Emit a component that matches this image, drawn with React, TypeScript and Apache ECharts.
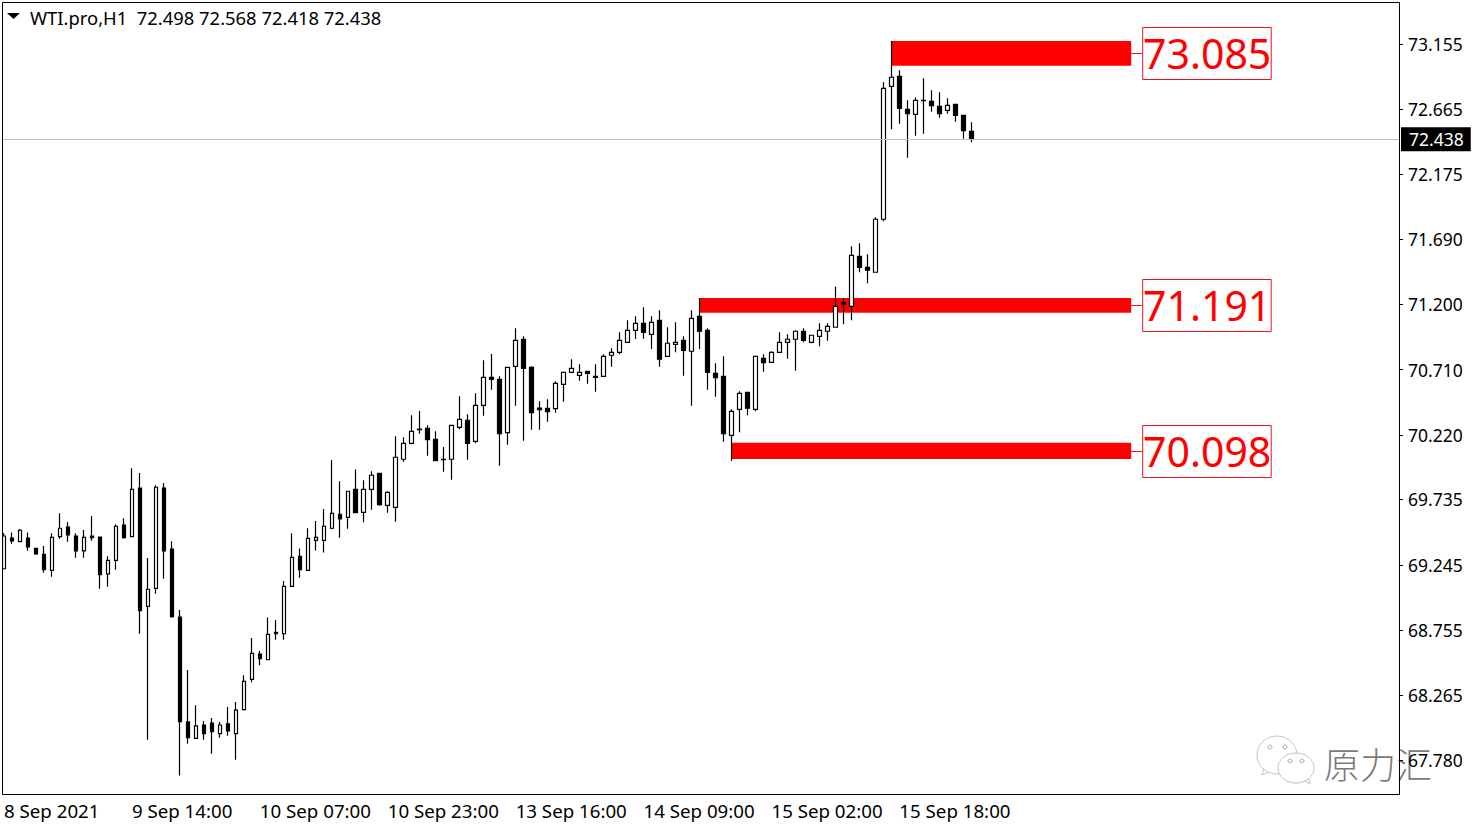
import React, { useEffect, useRef } from 'react';
import * as echarts from 'echarts';

const FONT = '"Noto Sans", Tahoma, sans-serif';

const opens = [
  69.215, 69.446, 69.418, 69.446, 69.368, 69.323, 69.203, 69.456, 69.528, 69.461,
  69.35, 69.461, 69.453, 69.177, 69.278, 69.543, 69.456, 69.821, 68.933, 69.068,
  69.821, 69.363, 68.852, 68.065, 67.942, 68.042, 68.057, 67.977, 68.05, 67.977,
  68.157, 68.385, 68.575, 68.532, 68.737, 68.727, 69.083, 69.308, 69.203, 69.428,
  69.428, 69.519, 69.624, 69.601, 69.811, 69.639, 69.811, 69.932, 69.691, 69.676,
  70.037, 70.157, 70.264, 70.27, 70.187, 70.034, 70.037, 70.277, 70.33, 70.172,
  70.442, 70.652, 70.637, 70.237, 70.735, 70.938, 70.727, 70.422, 70.42, 70.417,
  70.6, 70.69, 70.667, 70.697, 70.66, 70.66, 70.818, 70.84, 70.915, 71.005,
  71.058, 70.975, 71.08, 70.81, 70.9, 70.93, 70.848, 71.11, 71.005, 70.682,
  70.66, 70.217, 70.412, 70.54, 70.412, 70.795, 70.765, 70.84, 70.915, 70.938,
  70.998, 70.915, 70.96, 70.998, 71.028, 71.213, 71.185, 71.561, 71.478, 71.441,
  71.839, 72.837, 72.912, 72.664, 72.627, 72.729, 72.724, 72.687, 72.657, 72.702,
  72.619, 72.498,
];

const closes = [
  69.461, 69.425, 69.504, 69.38, 69.326, 69.208, 69.451, 69.519, 69.47, 69.35,
  69.451, 69.448, 69.17, 69.278, 69.534, 69.448, 69.811, 68.9, 69.061, 69.827,
  69.35, 68.855, 68.067, 67.947, 68.035, 67.977, 67.992, 68.042, 67.997, 68.153,
  68.37, 68.58, 68.54, 68.722, 68.727, 69.083, 69.301, 69.208, 69.443, 69.451,
  69.534, 69.631, 69.59, 69.797, 69.636, 69.811, 69.917, 69.696, 69.789, 70.052,
  70.157, 70.247, 70.259, 70.184, 70.026, 70.037, 70.292, 70.337, 70.157, 70.442,
  70.652, 70.637, 70.229, 70.727, 70.93, 70.72, 70.387, 70.409, 70.394, 70.607,
  70.69, 70.72, 70.69, 70.682, 70.652, 70.81, 70.84, 70.93, 71.005, 71.058,
  70.99, 71.065, 70.788, 70.908, 70.915, 70.855, 71.095, 70.998, 70.69, 70.649,
  70.229, 70.397, 70.532, 70.42, 70.81, 70.762, 70.84, 70.915, 70.938, 70.998,
  70.93, 70.968, 71.005, 71.035, 71.185, 71.201, 71.568, 71.478, 71.456, 71.839,
  72.822, 72.905, 72.672, 72.631, 72.732, 72.732, 72.691, 72.631, 72.694, 72.619,
  72.504, 72.438,
];

const lows = [
  69.213, 69.401, 69.418, 69.35, 69.32, 69.185, 69.155, 69.441, 69.418, 69.298,
  69.298, 69.425, 69.065, 69.08, 69.208, 69.441, 69.451, 68.727, 67.932, 69.028,
  69.14, 68.847, 67.662, 67.902, 67.942, 67.932, 67.827, 67.947, 67.962, 67.782,
  68.15, 68.363, 68.49, 68.532, 68.682, 68.682, 69.083, 69.148, 69.203, 69.353,
  69.338, 69.511, 69.448, 69.516, 69.636, 69.564, 69.658, 69.688, 69.636, 69.568,
  70.019, 70.149, 70.229, 70.064, 70.026, 69.944, 69.884, 70.262, 70.034, 70.157,
  70.364, 70.559, 69.989, 70.146, 70.439, 70.176, 70.259, 70.259, 70.319, 70.387,
  70.469, 70.682, 70.627, 70.604, 70.544, 70.66, 70.732, 70.825, 70.915, 70.94,
  70.942, 70.865, 70.732, 70.81, 70.84, 70.664, 70.439, 70.865, 70.559, 70.507,
  70.169, 70.026, 70.239, 70.367, 70.397, 70.695, 70.765, 70.84, 70.792, 70.702,
  70.915, 70.908, 70.885, 70.927, 71.028, 71.05, 71.08, 71.441, 71.358, 71.441,
  71.824, 72.514, 72.556, 72.301, 72.466, 72.481, 72.646, 72.601, 72.631, 72.571,
  72.444, 72.418,
];

const highs = [
  69.483, 69.488, 69.513, 69.488, 69.368, 69.386, 69.481, 69.631, 69.566, 69.481,
  69.506, 69.611, 69.453, 69.308, 69.549, 69.594, 69.969, 69.934, 69.296, 69.842,
  69.859, 69.421, 68.905, 68.455, 68.19, 68.072, 68.095, 68.065, 68.177, 68.215,
  68.415, 68.695, 68.597, 68.85, 68.83, 69.123, 69.481, 69.368, 69.519, 69.573,
  69.663, 70.032, 69.872, 69.797, 69.961, 69.879, 69.947, 69.932, 69.797, 70.209,
  70.203, 70.367, 70.399, 70.292, 70.247, 70.129, 70.292, 70.51, 70.375, 70.532,
  70.78, 70.827, 70.66, 70.727, 71.02, 70.96, 70.735, 70.472, 70.487, 70.622,
  70.69, 70.787, 70.75, 70.697, 70.75, 70.825, 70.87, 70.99, 71.08, 71.11,
  71.178, 71.11, 71.155, 71.028, 71.065, 70.96, 71.155, 71.248, 71.02, 70.757,
  70.81, 70.412, 70.547, 70.54, 70.81, 70.825, 70.848, 70.99, 70.975, 71.005,
  71.02, 70.968, 71.058, 71.058, 71.335, 71.246, 71.636, 71.658, 71.576, 71.854,
  72.867, 73.177, 72.957, 72.732, 72.755, 72.897, 72.807, 72.792, 72.747, 72.702,
  72.619, 72.568,
];

const priceTicks = [73.155, 72.665, 72.175, 71.69, 71.2, 70.71, 70.22, 69.735, 69.245, 68.755, 68.265, 67.78];
const timeLabels = [
  '8 Sep 2021',
  '9 Sep 14:00',
  '10 Sep 07:00',
  '10 Sep 23:00',
  '13 Sep 16:00',
  '14 Sep 09:00',
  '15 Sep 02:00',
  '15 Sep 18:00',
];

// red levels, from the candle they start on to the label box
const zoneStarts = [111, 87, 91];
const zoneEnd = 141;
const zoneTops = [73.177, 71.248, 70.161];
const zoneBottoms = [72.992, 71.137, 70.039];
const zoneLabels = ['73.085', '71.191', '70.098'];

const lastPrice = 72.438;
const titleText = 'WTI.pro,H1  72.498 72.568 72.418 72.438';

const LABEL_STEP = 16;
const SLOTS = 175; // chart has empty room to the right of the last candle

const categories = Array.from({ length: SLOTS }, (_, i) =>
  i % LABEL_STEP === 0 ? timeLabels[i / LABEL_STEP] ?? '' : ''
);
const candles = opens.map((o, i) => [o, closes[i], lows[i], highs[i]]);
const isLabelled = (i: number) => i % LABEL_STEP === 0 && i / LABEL_STEP < timeLabels.length;

const Chart: React.FC = () => {
  const chartRef = useRef<HTMLDivElement | null>(null);

  useEffect(() => {
    if (chartRef.current) {
      document.body.style.margin = '0';
      const myChart = echarts.init(chartRef.current, undefined, { renderer: 'svg' });

      const iconStyle = { fill: '#fff', stroke: '#c4c4c4', lineWidth: 1 };
      const option: any = {
        animation: false,
        backgroundColor: '#fff',
        title: {
          text: titleText,
          left: 25,
          top: 3,
          textStyle: { fontFamily: FONT, fontSize: 18.4, fontWeight: 'normal', color: '#000' },
        },
        grid: { left: -1, top: 2, width: 1400, height: 792 },
        xAxis: {
          type: 'category',
          data: categories,
          axisLine: { show: false },
          axisTick: { length: 4, alignWithLabel: true, interval: isLabelled, lineStyle: { color: '#000' } },
          axisLabel: {
            interval: isLabelled,
            align: 'left',
            margin: 7,
            color: '#000',
            fontFamily: FONT,
            fontSize: 18.7,
          },
          splitLine: { show: false },
        },
        yAxis: {
          type: 'value',
          position: 'right',
          min: 67.524,
          max: 73.47,
          axisLine: { show: false },
          axisTick: { show: true, length: 4, customValues: priceTicks, lineStyle: { color: '#000' } },
          axisLabel: {
            customValues: priceTicks,
            margin: 9,
            color: '#000',
            fontFamily: FONT,
            fontSize: 17.5,
            formatter: (v: number) => v.toFixed(3),
          },
          splitLine: { show: false },
        },
        series: [
          {
            type: 'custom',
            z: 1,
            data: zoneStarts.map((s, i) => [s, zoneEnd, zoneTops[i], zoneBottoms[i]]),
            encode: { x: [0, 1], y: [2, 3] },
            clip: false,
            renderItem: (params: any, api: any) => {
              const tl = api.coord([api.value(0), api.value(2)]);
              const br = api.coord([api.value(1), api.value(3)]);
              const midY = Math.round((tl[1] + br[1]) / 2) + 0.5;
              return {
                type: 'group',
                children: [
                  {
                    type: 'rect',
                    shape: { x: tl[0], y: tl[1], width: br[0] - tl[0], height: br[1] - tl[1] },
                    style: { fill: '#ff0000' },
                  },
                  {
                    type: 'line',
                    shape: { x1: br[0], y1: midY, x2: br[0] + 12, y2: midY },
                    style: { stroke: '#e8141c', lineWidth: 1 },
                  },
                  {
                    type: 'rect',
                    shape: { x: br[0] + 11.5, y: midY - 26, width: 128.5, height: 52 },
                    style: { fill: '#fff', stroke: '#e8141c', lineWidth: 1 },
                  },
                  {
                    type: 'text',
                    style: {
                      text: zoneLabels[params.dataIndex],
                      x: br[0] + 76,
                      y: midY - 1,
                      align: 'center',
                      verticalAlign: 'middle',
                      fill: '#ff0000',
                      font: `41px ${FONT}`,
                    },
                  },
                ],
              };
            },
          },
          {
            type: 'candlestick',
            z: 2,
            barWidth: 4,
            data: candles,
            itemStyle: {
              color: '#fff',
              color0: '#000',
              borderColor: '#000',
              borderColor0: '#000',
              borderWidth: 1.2,
            },
            markLine: {
              silent: true,
              symbol: 'none',
              lineStyle: { color: '#c0c0c0', width: 1, type: 'solid' },
              label: {
                position: 'end',
                distance: 2,
                formatter: lastPrice.toFixed(3),
                color: '#fff',
                backgroundColor: '#000',
                padding: [3, 7, 3, 8],
                fontFamily: FONT,
                fontSize: 17.5,
              },
              data: [{ yAxis: lastPrice }],
            },
          },
        ],
        graphic: [
          // first candle is cut by the frame
          { type: 'rect', z: 10, shape: { x: 0, y: 0, width: 2, height: 800 }, style: { fill: '#fff' } },
          {
            type: 'rect',
            z: 11,
            shape: { x: 2.5, y: 2.5, width: 1397, height: 792 },
            style: { fill: 'none', stroke: '#000', lineWidth: 1 },
          },
          { type: 'polygon', z: 11, shape: { points: [[7, 13], [20, 13], [13.5, 19]] }, style: { fill: '#000' } },
          // watermark
          {
            type: 'group',
            z: 12,
            children: [
              { type: 'polygon', shape: { points: [[1264, 768], [1262, 775], [1272, 771]] }, style: iconStyle },
              { type: 'ellipse', shape: { cx: 1277, cy: 755, rx: 20, ry: 19 }, style: iconStyle },
              { type: 'circle', shape: { cx: 1270, cy: 747, r: 2 }, style: { fill: 'none', stroke: '#aaa' } },
              { type: 'circle', shape: { cx: 1285, cy: 747, r: 2 }, style: { fill: 'none', stroke: '#aaa' } },
              { type: 'polygon', shape: { points: [[1303, 780], [1310, 784], [1308, 777]] }, style: iconStyle },
              { type: 'ellipse', shape: { cx: 1296, cy: 768, rx: 18, ry: 15 }, style: iconStyle },
              { type: 'circle', shape: { cx: 1290, cy: 761, r: 2 }, style: { fill: 'none', stroke: '#aaa' } },
              { type: 'circle', shape: { cx: 1302, cy: 761, r: 2 }, style: { fill: 'none', stroke: '#aaa' } },
              {
                type: 'text',
                style: {
                  text: '原力汇',
                  x: 1324,
                  y: 763,
                  verticalAlign: 'middle',
                  fill: '#7a7a7a',
                  font: '300 36px "Noto Sans CJK SC", sans-serif',
                },
              },
            ],
          },
        ],
      };

      myChart.setOption(option);

      return () => {
        myChart.dispose();
      };
    }
  }, []);

  return <div ref={chartRef} style={{ width: '1481px', height: '827px' }} />;
};

export default Chart;
